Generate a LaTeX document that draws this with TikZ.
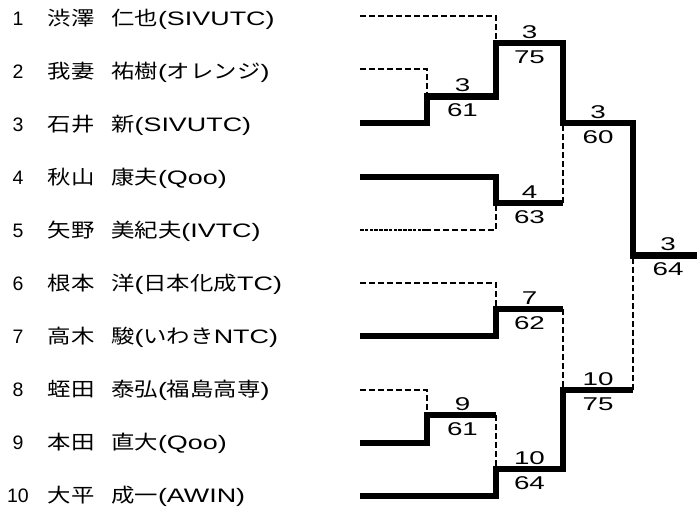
\documentclass[tikz,border=0pt]{standalone}
\usepackage{fontspec}
\newfontfamily\jpf[FakeStretch=1.2]{Noto Sans CJK JP}
\newfontfamily\latf[FakeStretch=1.38]{Liberation Sans}
\newfontfamily\numf{Liberation Sans}
\newfontfamily\scf[FakeStretch=1.5]{Liberation Sans}
\newcommand\jtx[1]{{\jpf #1}}
\newcommand\ltx[1]{{\latf #1}}
\begin{document}
\begin{tikzpicture}[x=1pt,y=-1pt,
  win/.style={line width=6.5pt, line join=miter},
  lose/.style={line width=2pt, dash pattern=on 6pt off 3pt},
  losedot/.style={line width=2pt, dash pattern=on 3.5pt off 1.3pt},
  numtxt/.style={anchor=base, inner sep=0pt, font=\numf\fontsize{19.5}{20}\selectfont},
  nametxt/.style={anchor=base west, inner sep=0pt, font=\fontsize{19.5}{20}\selectfont},
  score/.style={anchor=base, inner sep=0pt, font=\scf\fontsize{18.5}{19}\selectfont}]
\useasboundingbox (0,0) rectangle (697,512);
% player texts
\foreach \i/\b in {1/25.7,2/78.7,3/131.7,4/184.7,5/237.7,6/290.7,7/343.7,8/396.7,9/449.7,10/502.7}{
  \node[numtxt] (n\i) at (18,\b) {\i};
}
\node[nametxt] (s1) at (47.5,25.7) {\jtx{渋澤}};
\node[nametxt] (g1) at (111,25.7) {\jtx{仁也}\ltx{(SIVUTC)}};
\node[nametxt] (s2) at (47.5,78.7) {\jtx{我妻}};
\node[nametxt] (g2) at (111,78.7) {\jtx{祐樹}\ltx{(}\jtx{オレンジ}\ltx{)}};
\node[nametxt] (s3) at (47.5,131.7) {\jtx{石井}};
\node[nametxt] (g3) at (111,131.7) {\jtx{新}\ltx{(SIVUTC)}};
\node[nametxt] (s4) at (47.5,184.7) {\jtx{秋山}};
\node[nametxt] (g4) at (111,184.7) {\jtx{康夫}\ltx{(Qoo)}};
\node[nametxt] (s5) at (47.5,237.7) {\jtx{矢野}};
\node[nametxt] (g5) at (111,237.7) {\jtx{美紀夫}\ltx{(IVTC)}};
\node[nametxt] (s6) at (47.5,290.7) {\jtx{根本}};
\node[nametxt] (g6) at (111,290.7) {\jtx{洋}\ltx{(}\jtx{日本化成}\ltx{TC)}};
\node[nametxt] (s7) at (47.5,343.7) {\jtx{高木}};
\node[nametxt] (g7) at (111,343.7) {\jtx{駿}\ltx{(}\jtx{いわき}\ltx{NTC)}};
\node[nametxt] (s8) at (47.5,396.7) {\jtx{蛭田}};
\node[nametxt] (g8) at (111,396.7) {\jtx{泰弘}\ltx{(}\jtx{福島高専}\ltx{)}};
\node[nametxt] (s9) at (47.5,449.7) {\jtx{本田}};
\node[nametxt] (g9) at (111,449.7) {\jtx{直大}\ltx{(Qoo)}};
\node[nametxt] (s10) at (47.5,502.7) {\jtx{大平}};
\node[nametxt] (g10) at (111,502.7) {\jtx{成一}\ltx{(AWIN)}};
% bracket coordinates
\coordinate (p1) at (360,16);
\coordinate (p2) at (360,69);
\coordinate (p3) at (360,123);
\coordinate (p4) at (360,177);
\coordinate (p5) at (360,230);
\coordinate (q5) at (425,230);
\coordinate (p6) at (360,283);
\coordinate (p7) at (360,336);
\coordinate (p8) at (360,390);
\coordinate (p9) at (360,443);
\coordinate (p10) at (360,496);
\coordinate (m23) at (427,96.5);
\coordinate (m1) at (496,43);
\coordinate (m45) at (496,203);
\coordinate (sf1) at (563,123);
\coordinate (m67) at (496,309);
\coordinate (m89) at (427,415);
\coordinate (m10) at (496,469);
\coordinate (sf2) at (563,390);
\coordinate (fin) at (633,255.5);
\coordinate (champ) at (697,255.5);
% losers (dashed)
\draw[lose] (p1) -| (m1);
\draw[lose] (p2) -| (m23);
\draw[losedot] (p5) -- (q5);
\draw[lose] (q5) -| (m45);
\draw[lose] (m45 -| sf1) -- (sf1);
\draw[lose] (p6) -| (m67);
\draw[lose] (m67 -| sf2) -- (sf2);
\draw[lose] (p8) -| (m89);
\draw[lose] (m89 -| m10) -- (m10);
\draw[lose] (sf2 -| fin) -- (fin);
% winners (thick)
\draw[win] (p3) -| (m23) -| (m1) -| (sf1) -| (fin) -- (champ);
\draw[win] (p4) -| (m45) -- (m45 -| sf1);
\draw[win] (p7) -| (m67) -- (m67 -| sf2);
\draw[win] (p9) -| (m89) -- (m89 -| m10);
\draw[win] (p10) -| (m10) -| (sf2) -- (sf2 -| fin);
% scores
\node[score] (a23) at (462.5,91.5) {3};   \node[score] (b23) at (462.5,116.5) {61};
\node[score] (a1) at (529.5,38) {3};      \node[score] (b1) at (529.5,63) {75};
\node[score] (asf1) at (598,118) {3};     \node[score] (bsf1) at (598,143) {60};
\node[score] (a45) at (529.5,198) {4};    \node[score] (b45) at (529.5,223) {63};
\node[score] (afin) at (668,250.5) {3};   \node[score] (bfin) at (668,275.5) {64};
\node[score] (a67) at (529.5,304) {7};    \node[score] (b67) at (529.5,329) {62};
\node[score] (a89) at (462.5,410) {9};    \node[score] (b89) at (462.5,435) {61};
\node[score] (a10) at (529.5,464) {10};   \node[score] (b10) at (529.5,489) {64};
\node[score] (asf2) at (598,385) {10};    \node[score] (bsf2) at (598,410) {75};
\end{tikzpicture}
\end{document}
